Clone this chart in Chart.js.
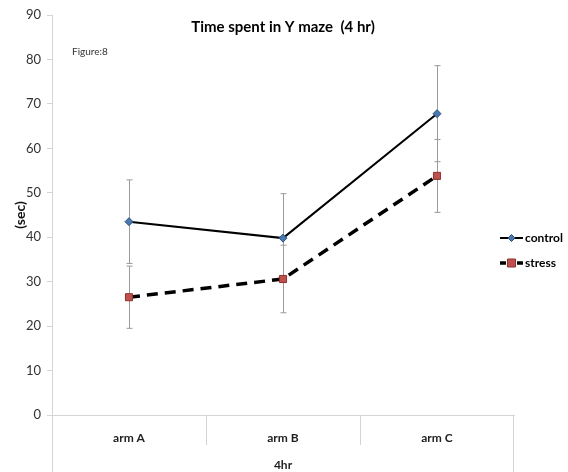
<!DOCTYPE html>
<html>
<head>
<meta charset="utf-8">
<script src="https://cdn.jsdelivr.net/npm/chart.js@4.4.1/dist/chart.umd.min.js"></script>
<style>
  html, body { margin: 0; padding: 0; background: #fff; }
  #wrap { width: 568px; height: 472px; position: relative; }
</style>
</head>
<body>
<div id="wrap"><canvas id="c" width="568" height="472"></canvas></div>
<script>
// Time spent in each arm of the Y maze, 4 hr session (seconds)
const arms = ['arm A', 'arm B', 'arm C'];
const controlMean = [43.5, 39.8, 67.8];
const controlErr = [9.4, 10.0, 10.8];
const stressMean = [26.5, 30.6, 53.8];
const stressErr = [7.0, 7.6, 8.2];
const yTicks = [0, 10, 20, 30, 40, 50, 60, 70, 80, 90];

const FONT = 'Lato, "Open Sans", sans-serif';
const AXIS_GREY = '#d4d4d4';

// Vertical error bars with short caps, drawn behind the lines
const errorBars = {
  id: 'errorBars',
  beforeDatasetsDraw(chart) {
    const { ctx, scales: { x, y } } = chart;
    const sets = [[controlMean, controlErr], [stressMean, stressErr]];
    ctx.save();
    ctx.strokeStyle = '#9a9a9a';
    ctx.lineWidth = 1;
    sets.forEach(([mean, err]) => {
      mean.forEach((m, i) => {
        const px = Math.round(x.getPixelForValue(i)) + 0.5;
        const top = y.getPixelForValue(m + err[i]);
        const bot = y.getPixelForValue(m - err[i]);
        ctx.beginPath();
        ctx.moveTo(px, top); ctx.lineTo(px, bot);
        ctx.moveTo(px - 3, top); ctx.lineTo(px + 3, top);
        ctx.moveTo(px - 3, bot); ctx.lineTo(px + 3, bot);
        ctx.stroke();
      });
    });
    ctx.restore();
  }
};

// Title, figure tag, category frame and legend
const decorations = {
  id: 'decorations',
  afterDraw(chart) {
    const { ctx, chartArea: a, scales: { x } } = chart;
    ctx.save();
    // title
    ctx.fillStyle = '#000';
    ctx.font = 'bold 15px ' + FONT;
    ctx.textAlign = 'center';
    ctx.textBaseline = 'middle';
    ctx.fillText('Time spent in Y maze  (4 hr)', (a.left + a.right) / 2, 27);
    // figure tag
    ctx.font = '10px ' + FONT;
    ctx.textAlign = 'left';
    ctx.fillStyle = '#333';
    ctx.fillText('Figure:8', 72, 52);

    // category frame below the axis
    ctx.strokeStyle = AXIS_GREY;
    ctx.lineWidth = 1;
    ctx.beginPath();
    ctx.moveTo(a.left + 0.5, a.bottom); ctx.lineTo(a.left + 0.5, 472);
    ctx.moveTo(a.right - 0.5, a.bottom); ctx.lineTo(a.right - 0.5, 472);
    for (let i = 1; i < arms.length; i++) {
      const px = Math.round((x.getPixelForValue(i - 1) + x.getPixelForValue(i)) / 2) + 0.5;
      ctx.moveTo(px, a.bottom); ctx.lineTo(px, a.bottom + 30);
    }
    ctx.stroke();

    // legend
    const items = chart.data.datasets;
    items.forEach((ds, k) => {
      const cy = 238 + k * 25;
      const x0 = 500, x1 = 523;
      ctx.beginPath();
      ctx.strokeStyle = '#000';
      ctx.lineWidth = ds.borderWidth;
      ctx.setLineDash([]);
      if (ds.borderDash) {
        ctx.moveTo(x0, cy); ctx.lineTo(x0 + 6, cy);
        ctx.moveTo(x1 - 6, cy); ctx.lineTo(x1, cy);
      } else {
        ctx.moveTo(x0, cy); ctx.lineTo(x1, cy);
      }
      ctx.stroke();
      ctx.fillStyle = ds.pointBackgroundColor;
      ctx.strokeStyle = ds.pointBorderColor;
      ctx.lineWidth = 1;
      const mx = (x0 + x1) / 2;
      ctx.beginPath();
      if (ds.pointStyle === 'rectRot') {
        ctx.moveTo(mx, cy - 3.5); ctx.lineTo(mx + 3.5, cy); ctx.lineTo(mx, cy + 3.5); ctx.lineTo(mx - 3.5, cy); ctx.closePath();
      } else {
        ctx.rect(mx - 4, cy - 4, 8, 8);
      }
      ctx.fill(); ctx.stroke();
      ctx.fillStyle = '#000';
      ctx.font = 'bold 12px ' + FONT;
      ctx.textAlign = 'left';
      ctx.fillText(ds.label, x1 + 2, cy);
    });
    ctx.restore();
  }
};

new Chart(document.getElementById('c'), {
  type: 'line',
  data: {
    labels: arms,
    datasets: [
      {
        label: 'control',
        data: controlMean,
        borderColor: '#000',
        borderWidth: 2,
        pointStyle: 'rectRot',
        pointRadius: 4,
        pointBackgroundColor: '#4a78b0',
        pointBorderColor: '#2d4e78',
        pointBorderWidth: 1,
        tension: 0
      },
      {
        label: 'stress',
        data: stressMean,
        borderColor: '#000',
        borderWidth: 3.5,
        borderDash: [11, 7],
        pointStyle: 'rect',
        pointRadius: 5,
        pointBackgroundColor: '#c0504d',
        pointBorderColor: '#8c3330',
        pointBorderWidth: 1,
        tension: 0
      }
    ]
  },
  options: {
    responsive: false,
    animation: false,
    layout: { padding: { top: 15, right: 54, left: 12, bottom: 0 } },
    plugins: {
      legend: { display: false },
      title: { display: false },
      tooltip: { enabled: false }
    },
    scales: {
      x: {
        offset: true,
        grid: { display: false },
        border: { color: AXIS_GREY, width: 1 },
        ticks: {
          color: '#222',
          font: { family: FONT, size: 12, weight: 'bold' },
          padding: 8
        },
        title: {
          display: true,
          text: '4hr',
          color: '#222',
          font: { family: FONT, size: 12, weight: 'bold' },
          padding: { top: 6, bottom: 0 }
        },
        afterFit(scale) { scale.height = 57; }
      },
      y: {
        min: 0,
        max: 90,
        afterBuildTicks(scale) { scale.ticks = yTicks.map(v => ({ value: v })); },
        grid: { drawOnChartArea: false, drawTicks: true, tickLength: 5, color: AXIS_GREY },
        border: { color: AXIS_GREY, width: 1 },
        ticks: {
          color: '#333',
          font: { family: FONT, size: 13 },
          padding: 6
        },
        title: {
          display: true,
          text: '(sec)',
          color: '#111',
          font: { family: FONT, size: 14, weight: 'bold' },
          padding: { top: 0, bottom: 2 }
        },
        afterFit(scale) { scale.width = 40; }
      }
    }
  },
  plugins: [errorBars, decorations]
});
</script>
</body>
</html>
